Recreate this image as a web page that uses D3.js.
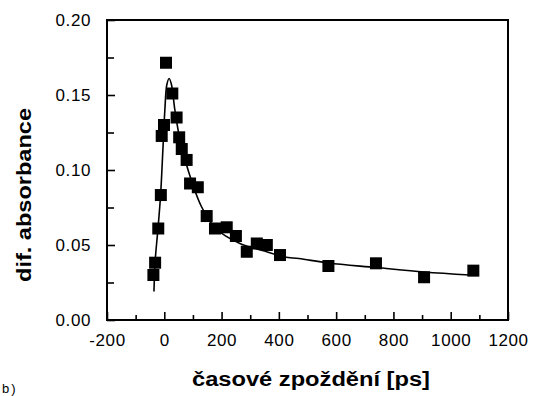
<!DOCTYPE html>
<html>
<head>
<meta charset="utf-8">
<script src="https://cdn.jsdelivr.net/npm/d3@7"></script>
<style>
  html, body { margin: 0; padding: 0; background: #fff; }
  svg { display: block; }
  text { font-family: "Liberation Sans", Arial, Helvetica, sans-serif; fill: #000; }
</style>
</head>
<body>
<svg id="chart" width="534" height="396"></svg>
<script>
// Measured points: pump-probe delay [ps] and differential absorbance
const delays = [-38, -32, -21, -12, -9, -1, 6, 28, 43, 52, 61, 78, 90, 117, 148, 177, 218, 250, 288, 323, 358, 404, 573, 739, 907, 1079];
const absorbance = [0.030, 0.0382, 0.061, 0.0833, 0.1227, 0.130, 0.1715, 0.151, 0.135, 0.1218, 0.114, 0.1067, 0.091, 0.0885, 0.0693, 0.061, 0.0618, 0.056, 0.0455, 0.051, 0.050, 0.0433, 0.036, 0.0378, 0.0285, 0.0329];

// Fitted kinetic curve (sampled)
const fitDelays = [-36, -32, -22, -13, -5, 2, 9, 17, 25, 37, 55, 83, 130, 180, 264, 350, 420, 470, 573, 739, 907, 1067];
const fitValues = [0.019, 0.039, 0.061, 0.083, 0.113, 0.14, 0.157, 0.161, 0.157, 0.14, 0.12, 0.10, 0.0755, 0.061, 0.051, 0.046, 0.042, 0.041, 0.038, 0.035, 0.032, 0.030];

// Axis ticks
const xMajor = [-200, 0, 200, 400, 600, 800, 1000, 1200];
const xMinor = [-100, 100, 300, 500, 700, 900, 1100];
const yMajor = [0.00, 0.05, 0.10, 0.15, 0.20];
const yMinor = [0.025, 0.075, 0.125, 0.175];

const xTitle = "časové zpoždění [ps]";
const yTitle = "dif. absorbance";
const panelLabel = "b)";

const svg = d3.select("#chart");
const m = { left: 107, right: 26, top: 20, bottom: 76 };
const W = 534, H = 396;
const pw = W - m.left - m.right, ph = H - m.top - m.bottom;

const x = d3.scaleLinear().domain([-200, 1200]).range([m.left, m.left + pw]);
const y = d3.scaleLinear().domain([0, 0.20]).range([m.top + ph, m.top]);

const g = svg.append("g");

// fitted line
const line = d3.line().x(d => x(d[0])).y(d => y(d[1])).curve(d3.curveCatmullRom.alpha(0.5));
g.append("path")
  .datum(fitDelays.map((t, i) => [t, fitValues[i]]))
  .attr("d", line)
  .attr("fill", "none")
  .attr("stroke", "#000")
  .attr("stroke-width", 1.6);

// data markers
const s = 12;
g.selectAll("rect.pt")
  .data(delays.map((t, i) => [t, absorbance[i]]))
  .join("rect")
  .attr("class", "pt")
  .attr("x", d => x(d[0]) - s / 2)
  .attr("y", d => y(d[1]) - s / 2)
  .attr("width", s)
  .attr("height", s)
  .attr("fill", "#000");

// bottom axis: inward ticks
const xAxis = d3.axisBottom(x).tickValues(xMajor).tickSize(-8).tickPadding(14)
  .tickFormat(d => String(d));
const gx = svg.append("g").attr("transform", `translate(0,${m.top + ph})`).call(xAxis);
gx.selectAll(".tick line").attr("stroke-width", 1.6);
svg.append("g").attr("transform", `translate(0,${m.top + ph})`)
  .call(d3.axisBottom(x).tickValues(xMinor).tickSize(-5).tickFormat(""))
  .call(a => a.select(".domain").remove())
  .selectAll(".tick line").attr("stroke-width", 1.6);

// left axis: inward ticks
const yAxis = d3.axisLeft(y).tickValues(yMajor).tickSize(-8).tickPadding(16)
  .tickFormat(d => d.toFixed(2));
const gy = svg.append("g").attr("transform", `translate(${m.left},0)`).call(yAxis);
gy.selectAll(".tick line").attr("stroke-width", 1.6);
svg.append("g").attr("transform", `translate(${m.left},0)`)
  .call(d3.axisLeft(y).tickValues(yMinor).tickSize(-7).tickFormat(""))
  .call(a => a.select(".domain").remove())
  .selectAll(".tick line").attr("stroke-width", 1.6);

[gx, gy].forEach(a => {
  a.select(".domain").remove();
  a.selectAll("text")
    .style("font-family", "'Liberation Sans', Arial, sans-serif")
    .style("font-size", "17px")
    .style("letter-spacing", "0.6px")
    .attr("fill", "#000");
});

// frame
svg.append("rect")
  .attr("x", m.left).attr("y", m.top)
  .attr("width", pw).attr("height", ph)
  .attr("fill", "none").attr("stroke", "#000").attr("stroke-width", 2);

// axis titles
svg.append("text")
  .attr("x", 311).attr("y", 386)
  .attr("text-anchor", "middle")
  .style("font-size", "20px").style("font-weight", "bold")
  .attr("textLength", 238).attr("lengthAdjust", "spacingAndGlyphs")
  .text(xTitle);

svg.append("text")
  .attr("transform", "translate(31,195) rotate(-90)")
  .attr("text-anchor", "middle")
  .style("font-size", "20px").style("font-weight", "bold")
  .attr("textLength", 174).attr("lengthAdjust", "spacingAndGlyphs")
  .text(yTitle);

// panel letter in the lower-left corner
svg.append("text")
  .attr("x", 2).attr("y", 393)
  .style("font-size", "13px")
  .style("letter-spacing", "2px")
  .text(panelLabel);
</script>
</body>
</html>
